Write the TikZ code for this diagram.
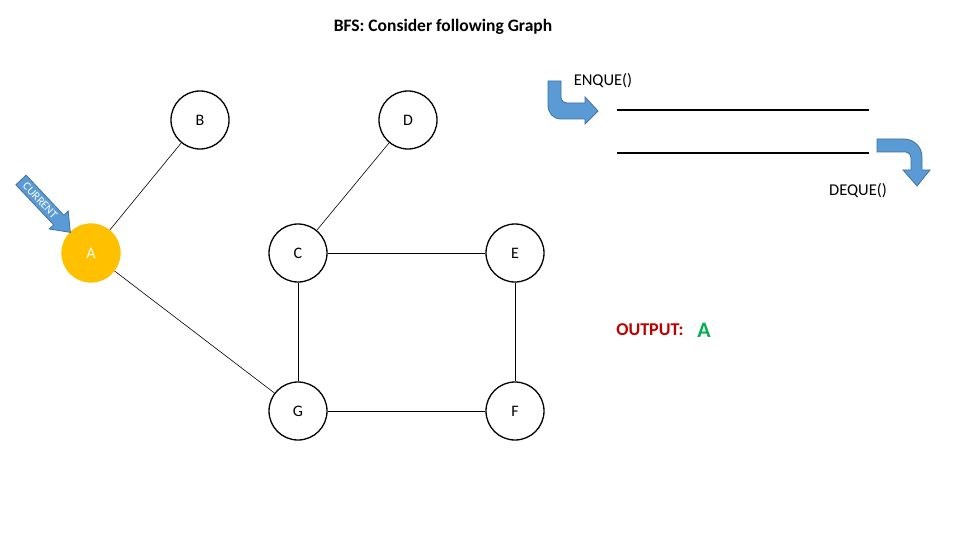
\documentclass[tikz,border=0pt]{standalone}
\usepackage{fontspec}
\setmainfont{Carlito}
\definecolor{gold}{HTML}{FFC000}
\definecolor{arrblue}{HTML}{5B9BD5}
\definecolor{arredge}{HTML}{41719C}
\definecolor{outred}{HTML}{C00000}
\definecolor{outgreen}{HTML}{00B050}
\begin{document}
\begin{tikzpicture}[x=1pt,y=-1pt,
  vtx/.style={circle,draw=black,line width=1.3pt,minimum size=58pt,inner sep=0pt,font=\fontsize{16}{19}\selectfont},
  edge/.style={draw=black,line width=0.6pt},
  queue/.style={draw=black,line width=2.2pt},
  blockarrow/.style={fill=arrblue,draw=arredge,line width=0.8pt},
  lbl/.style={font=\fontsize{16.5}{20}\selectfont,inner sep=0pt}]
\useasboundingbox (0,0) rectangle (960,540);
\fill[white] (0,0) rectangle (960,540);

\node[font=\fontsize{17.5}{21}\selectfont\bfseries,inner sep=0pt] (title) at (443,27) {BFS: Consider following Graph};

\node[vtx] (B) at (200,120) {B};
\node[vtx] (D) at (408,120) {D};
\node[vtx,fill=gold,draw=gold,text=white] (A) at (91,253) {A};
\node[vtx] (C) at (298,253) {C};
\node[vtx] (E) at (515,253) {E};
\node[vtx] (G) at (298,411) {G};
\node[vtx] (F) at (515,411) {F};

\draw[edge] (A) -- (B);
\draw[edge] (C) -- (D);
\draw[edge] (A) -- (G);
\draw[edge] (C) -- (E);
\draw[edge] (C) -- (G);
\draw[edge] (E) -- (F);
\draw[edge] (G) -- (F);

% queue
\coordinate (q1a) at (617,110); \coordinate (q1b) at (869,110);
\coordinate (q2a) at (617,153); \coordinate (q2b) at (869,153);
\draw[queue] (q1a) -- (q1b);
\draw[queue] (q2a) -- (q2b);

\node[lbl] (enq) at (603,81) {ENQUE()};
\node[lbl] (deq) at (858,191) {DEQUE()};

% enqueue bent arrow
\path[blockarrow] (548,81) -- (548,105) .. controls (548,113) and (553,119) .. (561,119)
  -- (585,119) -- (585,124) -- (598,111) -- (585,97) -- (585,103) -- (567,103)
  .. controls (564,103) and (561,101) .. (561,98) -- (561,81) -- cycle;

% dequeue bent arrow
\path[blockarrow] (877,139) -- (904,139) .. controls (914,139) and (922,147) .. (922,157)
  -- (922,170) -- (930,170) -- (917,186) -- (903,170) -- (911,170) -- (911,158)
  .. controls (911,155) and (909,152) .. (906,152) -- (877,152) -- cycle;

% current arrow
\begin{scope}[shift={(21,180)},rotate=-46.7]
\path[blockarrow] (0,-7) -- (55,-7) -- (55,-13) -- (72,0) -- (55,13) -- (55,7) -- (0,7) -- cycle;
\node[text=white,font=\fontsize{11.5}{13}\selectfont,inner sep=0pt,rotate=-46.7] (cur) at (28,0) {CURRENT};
\end{scope}

\node[text=outred,font=\fontsize{18}{21}\selectfont\bfseries,inner sep=0pt] (out) at (650,330) {OUTPUT:};
\node[text=outgreen,font=\fontsize{22}{26}\selectfont\bfseries,inner sep=0pt] (outA) at (704,330) {A};
\end{tikzpicture}
\end{document}
